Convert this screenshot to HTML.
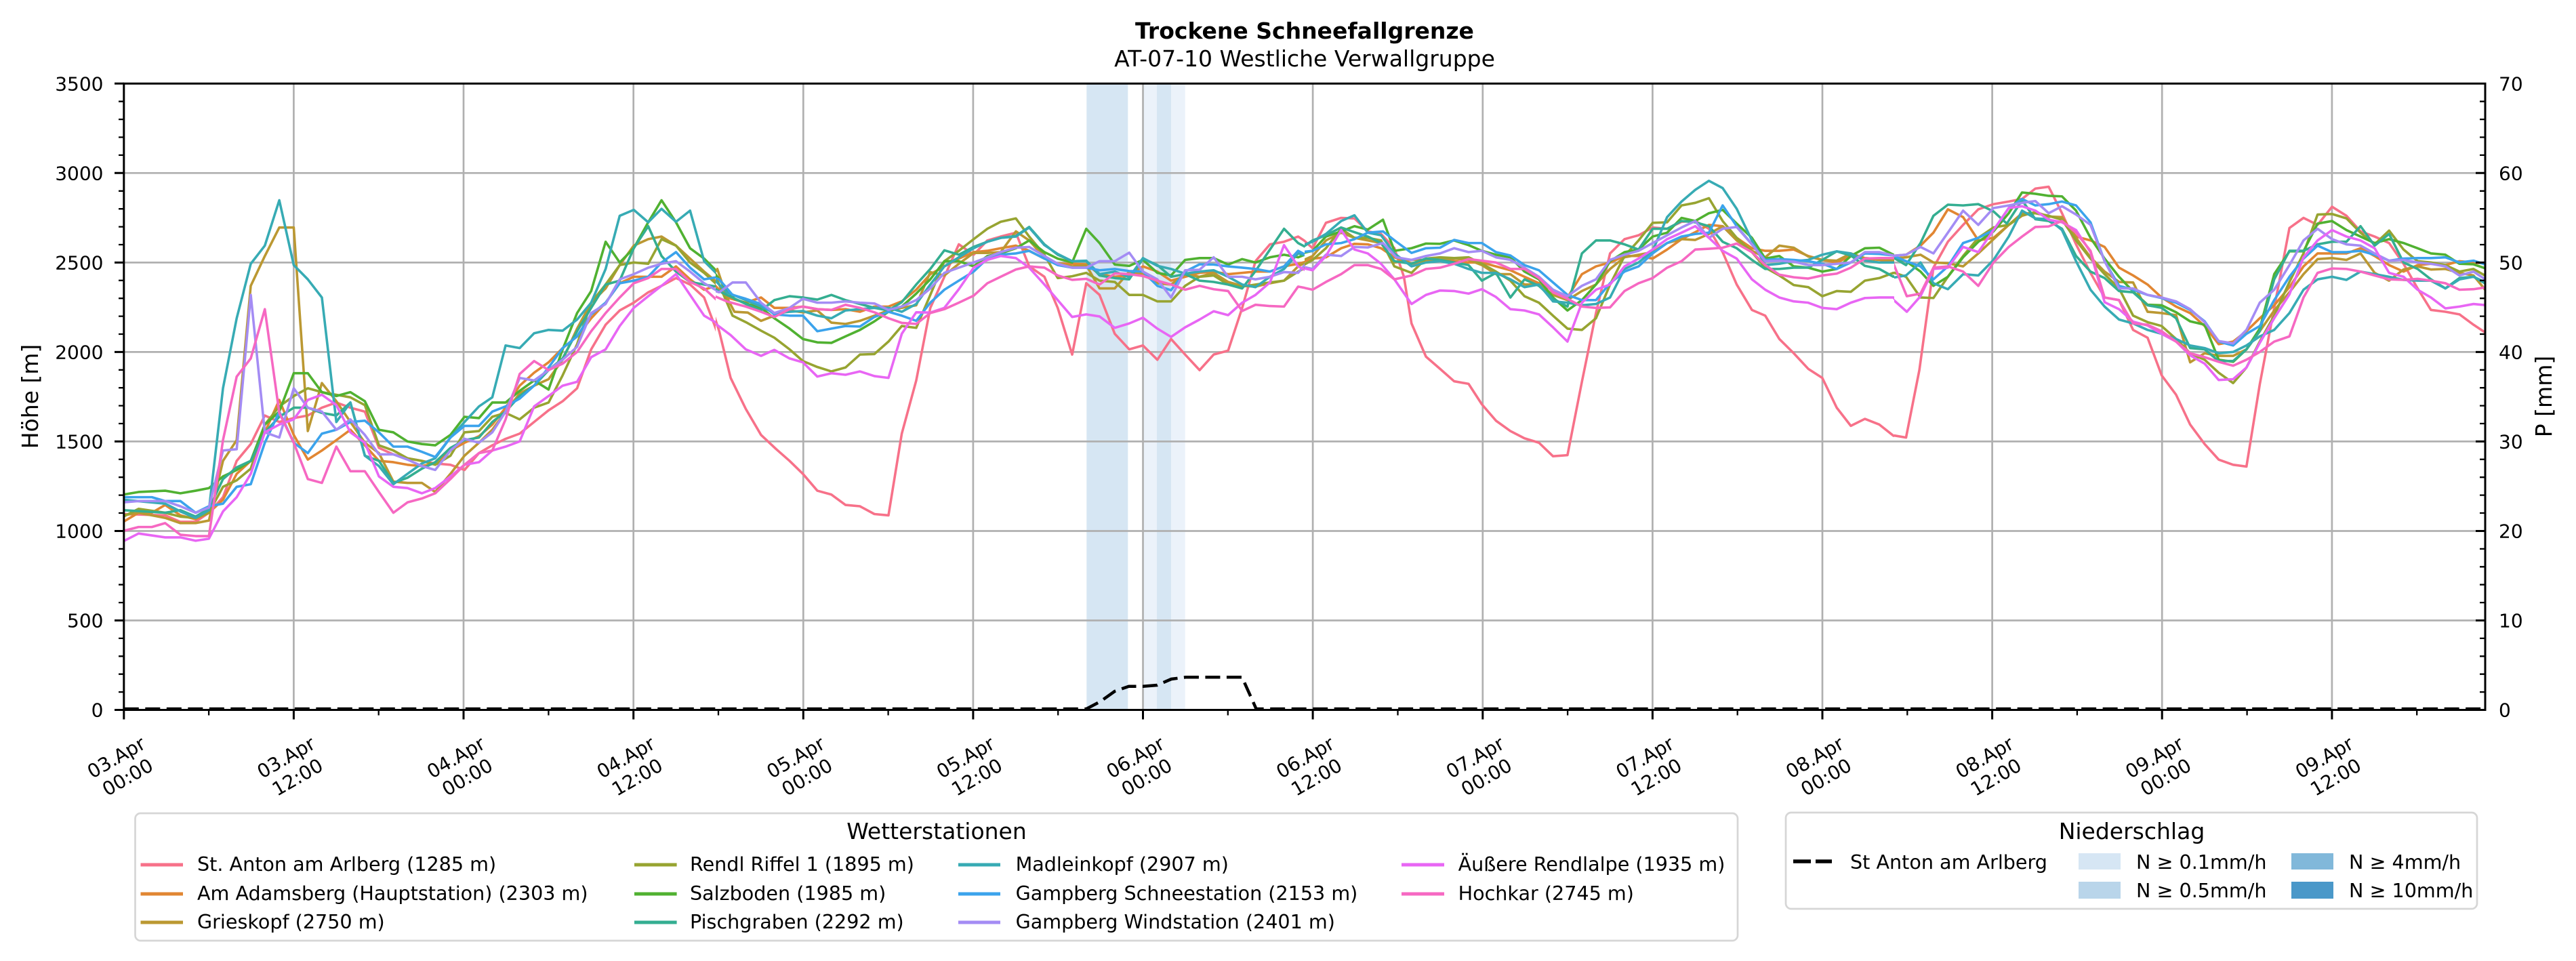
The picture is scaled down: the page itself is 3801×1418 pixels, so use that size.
<!DOCTYPE html>
<html><head><meta charset="utf-8">
<style>
html,body{margin:0;padding:0;background:#fff;}
svg{display:block;}
.s polyline{fill:none;stroke-width:3.6;stroke-linejoin:round;stroke-linecap:butt;vector-effect:non-scaling-stroke;}
text{font-family:"DejaVu Sans","Liberation Sans",sans-serif;fill:#000;}
.tk{font-size:28px;}
.lg{font-size:28.6px;}
</style></head>
<body>
<svg width="3801" height="1418" viewBox="0 0 3801 1418" xmlns="http://www.w3.org/2000/svg">
<defs>
<clipPath id="cA"><rect x="182.8" y="123" width="873.2" height="925"/></clipPath>
<clipPath id="cB"><rect x="1056" y="123" width="869" height="925"/></clipPath>
<clipPath id="cC"><rect x="1925" y="123" width="870" height="925"/></clipPath>
<clipPath id="cD"><rect x="2795" y="123" width="872" height="925"/></clipPath>
</defs>
<rect x="0" y="0" width="3801" height="1418" fill="#fff"/>

<!-- precipitation bands -->
<rect x="1603.3" y="123.3" width="61" height="924.2" fill="#d6e6f3"/>
<rect x="1686" y="123.3" width="21" height="924.2" fill="#ebf2fa"/>
<rect x="1707" y="123.3" width="21" height="924.2" fill="#d6e6f3"/>
<rect x="1728" y="123.3" width="20.7" height="924.2" fill="#ebf2fa"/>

<!-- gridlines -->
<g stroke="#b0b0b0" stroke-width="2.7">
<path d="M433.4 123.3V1047.5M684 123.3V1047.5M934.7 123.3V1047.5M1185.3 123.3V1047.5M1435.9 123.3V1047.5M1686.5 123.3V1047.5M1937.1 123.3V1047.5M2187.8 123.3V1047.5M2438.4 123.3V1047.5M2689 123.3V1047.5M2939.6 123.3V1047.5M3190.2 123.3V1047.5M3440.9 123.3V1047.5"/>
<path d="M182.8 915.5H3667M182.8 783.5H3667M182.8 651.4H3667M182.8 519.4H3667M182.8 387.4H3667M182.8 255.3H3667"/>
</g>

<!-- series segment A -->
<g clip-path="url(#cA)"><g class="s" transform="translate(182,240) scale(0.56122,0.38265)">
<polyline stroke="#f77189" points="0,1355 110,1360 150,1385 190,1385 225,1350 262,1290 298,1150 335,1085 372,975 410,1000 448,985 485,975 522,945 560,925 597,945 635,960 672,1100 710,1125 747,1140 785,1150 820,1160 860,1165 897,1185 935,1120 970,1090 1005,1065 1042,1045 1080,1000 1118,955 1155,920 1193,870 1230,720 1268,625 1305,570 1342,540 1380,500 1415,475 1453,445 1490,470 1527,520 1568,680"/>
<polyline stroke="#e18632" points="0,1385 40,1350 75,1350 110,1320 150,1360 190,1375 225,1350 262,1300 298,1200 335,1150 372,1040 410,915 448,1050 485,1145 522,1110 560,1070 597,1030 635,1090 672,1150 710,1155 747,1165 785,1170 820,1160 860,1110 897,1080 935,1055 970,1010 1005,945 1042,860 1080,810 1118,770 1155,715 1193,670 1230,600 1268,540 1305,465 1342,440 1380,440 1415,440 1453,400 1490,450 1527,490 1568,470"/>
<polyline stroke="#bb9832" points="0,1360 40,1350 110,1370 150,1390 190,1390 225,1380 262,1150 298,1070 335,475 372,360 410,250 448,250 485,1035 522,850 560,920 597,1000 635,1080 672,1120 710,1230 747,1235 785,1235 820,1270 860,1200 897,1130 935,1080 970,1030 1005,960 1042,890 1080,860 1118,835 1155,760 1193,640 1230,540 1268,485 1305,395 1342,320 1380,295 1415,285 1453,320 1490,370 1527,420 1568,470"/>
<polyline stroke="#97a431" points="0,1365 40,1335 110,1350 150,1365 190,1370 225,1350 262,1250 298,1225 335,1180 372,1010 410,940 448,900 485,870 522,885 560,895 597,905 635,935 672,1090 710,1110 747,1140 785,1150 820,1165 860,1130 897,1040 935,1035 970,980 1005,965 1042,990 1080,945 1118,925 1155,820 1193,700 1230,540 1268,470 1305,395 1342,385 1380,390 1415,295 1453,320 1490,385 1527,425 1568,480"/>
<polyline stroke="#50b131" points="0,1280 40,1270 110,1265 150,1275 190,1265 225,1255 262,1210 298,1185 335,1150 372,1010 410,960 448,812 485,812 522,885 560,900 597,885 635,920 672,1030 710,1040 747,1075 785,1085 820,1090 860,1050 897,980 935,985 970,925 1005,925 1042,880 1080,840 1118,875 1155,720 1193,580 1230,495 1268,305 1305,385 1342,330 1380,230 1415,145 1453,230 1490,330 1527,370 1568,430"/>
<polyline stroke="#34ae91" points="0,1340 110,1350 150,1340 190,1365 225,1335 262,1220 298,1175 335,1150 372,1040 410,980 448,945 485,945 522,965 560,975 597,925 635,1130 672,1150 710,1235 747,1215 785,1180 820,1155 860,1100 897,1070 935,1060 970,1000 1005,960 1042,900 1080,860 1118,800 1155,755 1193,650 1230,560 1268,470 1305,455 1342,330 1380,245 1415,360 1453,420 1490,460 1527,470 1568,480"/>
<polyline stroke="#37abb4" points="0,1300 110,1315 150,1345 190,1370 225,1340 262,870 298,600 335,390 372,320 410,145 448,395 485,450 522,520 560,1000 597,925 635,1130 672,1170 710,1240 747,1200 785,1160 820,1140 860,1060 897,1000 935,940 970,905 1005,705 1042,715 1080,658 1118,645 1155,648 1193,605 1230,540 1268,410 1305,205 1342,182 1380,230 1415,178 1453,228 1490,185 1527,380 1568,440"/>
<polyline stroke="#3ba3ec" points="0,1290 75,1290 110,1305 150,1305 190,1350 225,1325 262,1315 298,1250 335,1240 372,1080 410,960 448,1080 485,1120 522,1045 560,1030 597,1000 635,995 672,1040 710,1095 747,1095 785,1115 820,1135 860,1060 897,1015 935,1015 970,960 1005,940 1042,910 1080,860 1118,790 1155,715 1193,670 1230,585 1268,540 1305,465 1342,455 1380,440 1415,385 1453,345 1490,405 1527,450 1568,440"/>
<polyline stroke="#a48cf4" points="0,1310 40,1305 110,1305 150,1325 190,1350 225,1330 262,1110 298,1105 335,510 372,1040 410,1060 448,870 485,945 522,960 560,1030 597,990 635,1050 672,1125 710,1125 747,1145 785,1170 820,1185 860,1110 897,1065 935,1080 970,1040 1005,960 1042,830 1080,840 1118,800 1155,760 1193,710 1230,580 1268,545 1305,450 1342,430 1380,405 1415,390 1453,380 1490,420 1527,465 1568,500"/>
<polyline stroke="#e866f4" points="0,1460 40,1430 110,1445 150,1445 190,1458 225,1450 262,1345 298,1290 335,1200 372,1040 410,1010 448,990 485,915 522,895 560,935 597,1040 635,1080 672,1210 710,1250 747,1255 785,1275 820,1255 860,1210 897,1165 935,1155 970,1110 1005,1095 1042,1075 1080,940 1118,900 1155,860 1193,845 1230,750 1268,720 1305,630 1342,560 1380,515 1415,475 1453,430 1490,510 1527,590 1568,625"/>
<polyline stroke="#f668c2" points="0,1420 40,1405 75,1405 110,1390 150,1435 190,1440 225,1440 262,1070 298,825 335,755 372,565 410,965 448,1080 485,1220 522,1235 560,1095 597,1190 635,1190 672,1270 710,1350 747,1310 785,1295 820,1275 860,1220 897,1165 935,1120 970,1110 1005,990 1042,815 1080,765 1118,800 1155,775 1193,730 1230,650 1268,580 1305,520 1342,465 1380,445 1415,410 1453,410 1490,460 1527,485 1568,540"/>
</g></g>

<!-- series segment B -->
<g clip-path="url(#cB)"><g class="s" transform="translate(1050,240) scale(0.56122,0.38265)">
<polyline stroke="#f77189" points="0,560 20,650 50,830 90,950 130,1050 170,1105 205,1150 240,1200 278,1265 315,1280 352,1320 390,1325 428,1355 465,1360 500,1045 538,840 575,560 612,440 650,315 689,355 725,300 760,285 800,270 835,400 875,440 910,560 948,740 985,465 1020,510 1060,660 1098,720 1134,705 1172,760 1208,680 1245,740 1283,800 1320,740 1358,725 1395,560 1430,380 1468,315 1505,305 1542,285 1568,310"/>
<polyline stroke="#e18632" points="0,460 40,520 90,540 130,520 165,560 205,560 240,555 278,565 315,568 352,565 390,575 428,555 465,555 500,535 538,490 575,430 612,400 650,370 689,345 725,340 760,330 800,320 835,340 875,370 910,390 948,390 985,392 1020,430 1060,440 1098,435 1134,400 1172,420 1208,455 1245,440 1283,425 1320,420 1358,430 1395,425 1430,420 1468,420 1505,400 1542,390 1568,380"/>
<polyline stroke="#bb9832" points="0,440 15,410 40,520 60,575 95,578 130,610 165,590 205,570 240,577 278,570 315,617 352,622 390,610 428,590 465,570 500,560 538,550 575,422 612,435 650,390 689,348 725,348 760,345 800,265 835,300 875,365 910,390 948,400 985,395 1020,485 1060,485 1098,420 1134,430 1172,465 1208,470 1245,430 1283,440 1320,425 1358,460 1395,475 1430,478 1468,465 1505,455 1542,400 1568,380"/>
<polyline stroke="#97a431" points="0,410 20,470 55,590 90,615 130,648 165,675 205,720 240,765 278,788 315,805 352,790 390,740 428,738 465,690 500,630 538,637 575,510 612,380 650,340 689,295 725,255 760,228 800,215 835,285 875,355 910,445 948,438 985,425 1020,455 1060,460 1098,510 1134,510 1172,535 1208,535 1245,475 1283,440 1320,435 1358,470 1395,478 1430,470 1468,462 1505,455 1542,420 1568,400"/>
<polyline stroke="#50b131" points="0,410 30,470 60,525 95,545 130,560 165,600 205,640 240,680 278,693 315,695 352,670 390,645 428,612 465,575 500,555 538,505 575,450 612,380 650,380 689,400 725,360 760,350 800,330 835,300 875,345 910,370 948,385 985,255 1020,310 1060,393 1098,398 1134,375 1172,425 1208,435 1245,375 1283,368 1320,368 1358,393 1395,372 1430,385 1468,365 1505,355 1542,365 1568,350"/>
<polyline stroke="#34ae91" points="0,480 40,510 90,545 130,570 165,530 205,515 240,520 278,528 315,510 352,530 390,545 428,560 465,570 500,538 538,470 575,410 612,338 650,355 689,325 725,305 760,290 800,283 835,248 875,315 910,355 948,380 985,380 1020,435 1060,445 1098,450 1134,370 1172,395 1208,440 1245,430 1283,455 1320,460 1358,470 1395,485 1430,418 1468,335 1505,255 1542,310 1568,330"/>
<polyline stroke="#37abb4" points="0,440 40,500 90,530 130,555 165,580 205,575 240,572 278,590 315,600 352,570 390,565 428,560 465,560 500,575 538,545 575,470 612,400 650,365 689,330 725,305 760,290 800,285 835,250 875,318 910,352 948,380 985,378 1020,430 1060,420 1098,442 1134,368 1172,398 1208,410 1245,428 1283,420 1320,415 1358,440 1395,470 1430,480 1468,440 1505,410 1542,350 1568,360"/>
<polyline stroke="#3ba3ec" points="0,440 20,450 55,510 90,525 130,545 165,585 205,590 240,590 278,650 315,640 352,630 390,632 428,595 465,575 500,590 538,610 575,540 612,490 650,455 689,420 725,370 760,355 800,350 835,340 875,370 910,395 948,405 985,405 1020,415 1060,410 1098,418 1134,420 1172,475 1208,492 1245,420 1283,392 1320,393 1358,400 1395,405 1430,410 1468,420 1505,400 1542,340 1568,360"/>
<polyline stroke="#a48cf4" points="0,490 20,500 55,462 90,462 130,540 165,580 205,560 240,525 278,540 315,540 352,535 390,540 428,543 465,568 500,555 538,530 575,485 612,425 650,405 689,385 725,365 760,345 800,328 835,325 875,360 910,390 948,405 985,405 1020,380 1060,380 1098,347 1134,420 1172,450 1208,520 1245,415 1283,413 1320,365 1358,440 1395,440 1430,450 1468,440 1505,422 1542,425 1568,380"/>
<polyline stroke="#e866f4" points="0,610 50,665 90,720 130,745 165,722 205,755 240,770 278,825 315,812 352,818 390,805 428,823 465,830 500,660 538,577 575,578 612,560 650,488 689,405 725,375 760,360 800,368 835,405 875,470 910,530 948,595 985,585 1020,593 1060,637 1098,620 1134,598 1172,640 1208,672 1245,635 1283,605 1320,573 1358,588 1395,540 1430,510 1468,462 1505,318 1542,400 1568,420"/>
<polyline stroke="#f668c2" points="0,510 40,535 90,555 130,575 165,595 205,565 240,555 278,565 315,568 352,548 390,560 428,577 465,600 500,618 538,622 575,580 612,565 650,540 689,513 725,465 760,440 800,412 835,400 875,405 910,435 948,452 985,448 1020,470 1060,427 1098,430 1134,437 1172,455 1208,470 1245,490 1283,475 1320,488 1358,495 1395,572 1430,548 1468,553 1505,555 1542,478 1568,485"/>
</g></g>

<!-- series segment C -->
<g clip-path="url(#cC)"><g class="s" transform="translate(1920,240) scale(0.56122,0.38265)">
<polyline stroke="#f77189" points="0,290 30,330 65,232 105,213 140,215 175,265 210,275 245,330 270,440 290,620 328,748 365,795 402,843 440,853 475,932 512,995 550,1035 587,1063 625,1080 662,1132 700,1128 738,845 775,580 812,350 850,295 887,280 924,250 962,255 1000,228 1036,225 1072,255 1108,345 1145,470 1185,568 1220,590 1257,680 1295,735 1333,795 1370,830 1408,945 1445,1015 1482,988 1520,1010 1557,1053 1568,1055"/>
<polyline stroke="#e18632" points="0,385 30,370 65,365 105,330 140,313 175,315 210,330 245,365 290,390 328,380 365,375 402,380 440,385 475,385 512,400 550,415 587,440 625,465 662,490 700,520 738,430 775,400 812,385 850,360 887,360 924,370 962,335 1000,295 1036,268 1072,240 1108,245 1145,290 1185,330 1220,340 1257,340 1295,335 1333,360 1370,375 1408,385 1445,360 1482,370 1520,375 1557,380 1568,380"/>
<polyline stroke="#bb9832" points="0,380 30,360 65,300 105,270 140,290 175,300 210,310 245,385 290,375 328,375 365,375 402,370 440,375 475,395 512,430 550,430 587,470 625,470 662,510 700,530 738,495 775,470 812,410 850,365 887,355 924,345 962,310 1000,295 1036,298 1072,275 1108,245 1145,300 1185,340 1220,365 1257,320 1295,328 1333,362 1370,375 1408,378 1445,350 1482,368 1520,372 1557,375 1568,380"/>
<polyline stroke="#97a431" points="0,400 30,375 65,330 105,255 140,290 175,290 210,300 245,400 290,425 328,370 365,365 402,368 440,365 475,390 512,420 550,455 587,515 625,540 662,590 700,640 738,645 775,600 812,470 850,360 887,300 924,232 962,230 1000,165 1036,155 1072,137 1108,225 1145,290 1185,345 1220,405 1257,435 1295,472 1333,480 1370,515 1408,495 1445,498 1482,455 1520,445 1557,425 1568,430"/>
<polyline stroke="#50b131" points="0,350 30,340 65,285 105,265 140,245 175,258 215,220 245,340 290,330 328,312 365,313 402,300 440,318 475,340 512,355 550,365 587,420 625,450 662,520 700,570 738,530 775,470 812,380 850,345 887,335 924,285 962,270 1000,213 1036,225 1072,195 1108,182 1145,235 1185,290 1220,370 1257,360 1295,400 1333,405 1370,420 1408,410 1445,360 1482,330 1520,328 1557,355 1568,360"/>
<polyline stroke="#34ae91" points="0,330 30,300 65,280 105,250 140,268 175,285 210,310 245,380 290,390 328,370 365,375 402,385 440,395 475,455 512,425 550,520 587,450 625,475 662,525 700,555 738,350 775,300 812,300 850,315 887,335 924,255 962,255 1000,225 1036,230 1072,245 1108,305 1145,330 1185,375 1220,410 1257,410 1295,405 1333,405 1370,375 1408,342 1445,358 1482,398 1520,410 1557,440 1568,430"/>
<polyline stroke="#37abb4" points="0,320 30,305 65,275 105,225 140,203 175,270 210,280 245,350 290,400 328,385 365,380 402,390 440,410 475,425 512,425 550,450 587,480 625,470 662,535 700,540 738,550 775,545 812,520 850,410 887,385 924,340 962,210 1000,150 1036,105 1072,70 1108,98 1145,178 1185,300 1220,395 1257,390 1295,380 1333,375 1370,355 1408,342 1445,350 1482,378 1520,385 1557,385 1568,385"/>
<polyline stroke="#3ba3ec" points="0,345 30,340 65,315 105,310 140,295 175,270 215,265 250,305 290,348 328,330 365,328 402,298 440,310 475,310 512,345 550,358 587,395 625,415 662,462 700,510 738,530 775,530 812,465 850,420 887,400 924,350 962,310 1000,285 1036,275 1072,270 1108,165 1145,245 1185,315 1220,375 1257,372 1295,375 1333,380 1370,390 1408,410 1445,385 1482,350 1520,352 1557,358 1568,360"/>
<polyline stroke="#a48cf4" points="0,400 30,410 65,355 105,360 140,325 175,327 215,310 250,365 290,375 328,360 365,350 402,330 440,345 475,340 512,365 550,375 587,405 625,440 662,490 700,515 738,475 775,450 812,375 850,355 887,340 924,310 962,280 1000,250 1036,225 1072,290 1108,255 1145,248 1185,315 1220,380 1257,378 1295,382 1333,395 1370,395 1408,390 1445,385 1482,345 1520,345 1557,358 1568,360"/>
<polyline stroke="#e866f4" points="0,405 30,415 65,360 105,260 140,335 175,350 210,390 245,450 290,545 328,510 365,493 402,495 440,505 475,488 512,518 550,565 587,570 625,585 662,635 700,690 738,540 775,490 812,470 850,400 887,370 924,335 962,295 1000,270 1036,245 1072,290 1108,340 1145,370 1185,450 1220,490 1257,520 1295,535 1333,540 1370,560 1408,565 1445,540 1482,522 1520,520 1557,520 1568,540"/>
<polyline stroke="#f668c2" points="0,480 30,490 65,460 105,430 140,395 175,395 210,410 245,450 290,435 328,410 365,405 402,390 440,372 475,378 512,385 550,410 587,410 625,445 662,500 700,525 738,555 775,560 812,558 850,495 887,465 924,445 962,405 1000,380 1036,335 1072,332 1108,328 1145,312 1185,345 1220,395 1257,432 1295,442 1333,447 1370,435 1408,428 1445,405 1482,370 1520,368 1557,368 1568,370"/>
</g></g>

<!-- series segment D -->
<g clip-path="url(#cD)"><g class="s" transform="translate(2790,240) scale(0.56122,0.38265)">
<polyline stroke="#f77189" points="0,1050 40,1060 75,800 112,405 150,305 190,240 230,180 270,160 310,150 345,140 380,100 415,93 450,195 487,315 525,425 562,520 600,530 637,645 675,675 712,820 750,895 787,1010 825,1085 862,1145 900,1165 935,1172 970,855 1008,560 1048,252 1085,213 1122,240 1160,170 1198,205 1235,265 1272,285 1310,310 1348,390 1385,485 1420,568 1458,575 1495,585 1532,625 1568,660"/>
<polyline stroke="#e18632" points="0,360 40,355 78,320 112,270 150,180 190,210 230,300 270,290 310,240 345,195 380,195 415,205 450,220 487,285 525,300 562,325 600,405 637,435 675,470 712,520 750,555 787,580 825,630 862,700 900,690 935,650 970,600 1008,550 1048,480 1085,400 1122,350 1160,350 1198,350 1235,330 1272,360 1310,395 1348,420 1385,395 1420,390 1458,395 1495,380 1532,385 1568,390"/>
<polyline stroke="#bb9832" points="0,370 40,365 78,355 112,385 150,388 190,400 230,350 270,295 310,240 345,205 380,190 415,208 450,210 487,290 525,365 562,420 600,460 637,462 675,575 712,580 750,588 787,770 825,735 862,745 900,745 935,720 970,650 1008,570 1048,500 1085,430 1122,372 1160,368 1198,375 1235,350 1272,425 1310,455 1348,412 1385,400 1420,412 1458,410 1495,425 1532,435 1568,500"/>
<polyline stroke="#97a431" points="0,420 40,440 78,520 112,522 150,440 190,360 230,290 270,250 310,240 345,200 380,195 415,205 450,220 487,300 525,370 562,430 600,485 637,590 675,615 712,630 750,680 787,735 825,760 862,810 900,850 935,790 970,690 1008,590 1048,460 1085,350 1122,200 1160,198 1198,215 1235,270 1272,315 1310,262 1348,335 1385,380 1420,385 1458,395 1495,420 1532,410 1568,440"/>
<polyline stroke="#50b131" points="0,365 40,380 78,420 112,475 150,440 190,365 230,305 270,265 310,195 345,115 380,120 415,128 450,130 487,185 525,290 562,370 600,440 637,497 675,548 712,550 750,577 787,612 825,625 862,760 900,768 935,720 970,640 1008,430 1048,342 1085,342 1122,235 1160,225 1198,260 1235,285 1272,310 1310,295 1348,310 1385,330 1420,350 1458,355 1495,390 1532,392 1568,410"/>
<polyline stroke="#34ae91" points="0,360 40,395 78,310 112,205 150,162 190,165 230,160 270,188 305,235 345,145 380,218 415,225 450,255 487,360 525,420 562,445 600,495 637,500 675,550 712,560 750,600 787,715 825,720 862,765 900,765 935,720 970,650 1008,450 1048,340 1085,340 1122,315 1160,305 1198,305 1235,245 1272,320 1310,275 1348,385 1385,410 1420,450 1458,485 1495,445 1532,440 1568,470"/>
<polyline stroke="#37abb4" points="0,445 40,435 78,385 112,465 150,488 190,430 230,435 270,375 310,285 345,185 380,215 415,218 450,260 487,380 525,490 562,555 600,605 637,620 675,645 712,660 750,680 787,705 825,715 862,735 900,730 935,705 970,670 1008,645 1048,580 1085,490 1122,450 1160,440 1198,452 1235,420 1272,430 1310,440 1348,452 1385,455 1420,455 1458,485 1495,450 1532,440 1568,465"/>
<polyline stroke="#3ba3ec" points="0,355 40,380 78,400 112,450 150,400 190,310 230,290 270,260 310,175 345,140 380,165 415,160 450,150 487,165 525,230 562,380 600,475 637,490 675,510 712,522 750,540 787,568 825,612 862,690 900,705 935,660 970,630 1008,530 1048,440 1085,370 1122,320 1160,345 1198,345 1235,340 1272,355 1310,378 1348,370 1385,368 1420,368 1458,365 1495,385 1532,378 1568,395"/>
<polyline stroke="#a48cf4" points="0,360 40,355 78,325 112,350 150,270 190,185 230,240 270,175 310,165 345,155 380,148 415,195 450,168 487,200 525,240 562,380 600,485 637,485 675,510 712,520 750,535 787,565 825,615 862,688 900,697 935,645 970,540 1008,490 1048,395 1085,300 1122,255 1160,295 1198,315 1235,320 1272,350 1310,378 1348,375 1385,385 1420,390 1458,400 1495,435 1532,420 1568,455"/>
<polyline stroke="#e866f4" points="0,520 42,575 78,515 112,410 150,405 190,325 230,345 270,260 310,175 345,168 380,185 415,220 450,230 487,260 525,345 562,538 600,565 637,613 675,628 712,660 750,690 787,743 825,775 862,838 900,835 935,790 970,695 1008,600 1048,508 1085,365 1122,300 1160,260 1198,285 1235,300 1272,330 1310,425 1348,440 1385,490 1420,520 1458,562 1495,555 1532,545 1568,550"/>
<polyline stroke="#f668c2" points="0,365 42,515 78,505 112,405 150,400 190,420 230,475 270,385 310,325 345,285 380,248 415,246 450,225 487,270 525,340 562,520 600,530 637,620 675,625 712,650 750,690 787,735 825,750 862,768 900,783 935,760 970,730 1008,690 1048,670 1085,520 1122,425 1160,408 1198,410 1235,420 1272,435 1310,450 1348,452 1385,448 1420,455 1458,465 1495,490 1532,488 1568,480"/>
</g></g>

<!-- precipitation line -->
<polyline fill="none" stroke="#000" stroke-width="4.5" stroke-dasharray="22 9.5" points="182.8,1046 1603,1046 1623.9,1035 1644.8,1020 1665.6,1012.7 1686.5,1012.7 1707.4,1011 1728.3,1002 1749.2,999.3 1832.7,999.3 1853.6,1046 3667,1046"/>

<!-- spines -->
<rect x="182.8" y="123.3" width="3484.2" height="924.2" fill="none" stroke="#000" stroke-width="3"/>

<!-- ticks -->
<g stroke="#000" stroke-width="3">
<path d="M169 1047.5h14M169 915.5h14M169 783.5h14M169 651.4h14M169 519.4h14M169 387.4h14M169 255.3h14M169 123.3h14"/>
<path d="M3653 915.5h14M3653 783.5h14M3653 651.4h14M3653 519.4h14M3653 387.4h14M3653 255.3h14"/>
<path d="M182.8 1047.5v14M433.4 1047.5v14M684 1047.5v14M934.7 1047.5v14M1185.3 1047.5v14M1435.9 1047.5v14M1686.5 1047.5v14M1937.1 1047.5v14M2187.8 1047.5v14M2438.4 1047.5v14M2689 1047.5v14M2939.6 1047.5v14M3190.2 1047.5v14M3440.9 1047.5v14"/>
</g>
<g stroke="#000" stroke-width="2.3">
<path d="M175 1021.1h8M175 994.7h8M175 968.3h8M175 941.9h8M175 889.1h8M175 862.7h8M175 836.3h8M175 809.9h8M175 757h8M175 730.6h8M175 704.2h8M175 677.8h8M175 625h8M175 598.6h8M175 572.2h8M175 545.8h8M175 493h8M175 466.6h8M175 440.2h8M175 413.8h8M175 361h8M175 334.6h8M175 308.2h8M175 281.8h8M175 228.9h8M175 202.5h8M175 176.1h8M175 149.7h8"/>
<path d="M3659 1021.1h8M3659 994.7h8M3659 968.3h8M3659 941.9h8M3659 889.1h8M3659 862.7h8M3659 836.3h8M3659 809.9h8M3659 757h8M3659 730.6h8M3659 704.2h8M3659 677.8h8M3659 625h8M3659 598.6h8M3659 572.2h8M3659 545.8h8M3659 493h8M3659 466.6h8M3659 440.2h8M3659 413.8h8M3659 361h8M3659 334.6h8M3659 308.2h8M3659 281.8h8M3659 228.9h8M3659 202.5h8M3659 176.1h8M3659 149.7h8"/>
<path d="M308.1 1047.5v8M558.7 1047.5v8M809.4 1047.5v8M1060 1047.5v8M1310.6 1047.5v8M1561.2 1047.5v8M1811.8 1047.5v8M2062.5 1047.5v8M2313.1 1047.5v8M2563.7 1047.5v8M2814.3 1047.5v8M3064.9 1047.5v8M3315.6 1047.5v8M3566.2 1047.5v8"/>
</g>

<!-- y labels left -->
<g class="tk" text-anchor="end">
<text x="152.5" y="1057.5">0</text>
<text x="152.5" y="925.5">500</text>
<text x="152.5" y="793.5">1000</text>
<text x="152.5" y="661.4">1500</text>
<text x="152.5" y="529.4">2000</text>
<text x="152.5" y="397.4">2500</text>
<text x="152.5" y="265.3">3000</text>
<text x="152.5" y="133.3">3500</text>
</g>
<!-- y labels right -->
<g class="tk" text-anchor="start">
<text x="3687" y="1057.5">0</text>
<text x="3687" y="925.5">10</text>
<text x="3687" y="793.5">20</text>
<text x="3687" y="661.4">30</text>
<text x="3687" y="529.4">40</text>
<text x="3687" y="397.4">50</text>
<text x="3687" y="265.3">60</text>
<text x="3687" y="133.3">70</text>
</g>

<!-- x labels -->
<g class="tk" text-anchor="middle">
<g transform="translate(179.8,1132) rotate(-30)"><text x="0" y="-6.8">03.Apr</text><text x="0" y="26.8">00:00</text></g>
<g transform="translate(430.4,1132) rotate(-30)"><text x="0" y="-6.8">03.Apr</text><text x="0" y="26.8">12:00</text></g>
<g transform="translate(681,1132) rotate(-30)"><text x="0" y="-6.8">04.Apr</text><text x="0" y="26.8">00:00</text></g>
<g transform="translate(931.7,1132) rotate(-30)"><text x="0" y="-6.8">04.Apr</text><text x="0" y="26.8">12:00</text></g>
<g transform="translate(1182.3,1132) rotate(-30)"><text x="0" y="-6.8">05.Apr</text><text x="0" y="26.8">00:00</text></g>
<g transform="translate(1432.9,1132) rotate(-30)"><text x="0" y="-6.8">05.Apr</text><text x="0" y="26.8">12:00</text></g>
<g transform="translate(1683.5,1132) rotate(-30)"><text x="0" y="-6.8">06.Apr</text><text x="0" y="26.8">00:00</text></g>
<g transform="translate(1934.1,1132) rotate(-30)"><text x="0" y="-6.8">06.Apr</text><text x="0" y="26.8">12:00</text></g>
<g transform="translate(2184.8,1132) rotate(-30)"><text x="0" y="-6.8">07.Apr</text><text x="0" y="26.8">00:00</text></g>
<g transform="translate(2435.4,1132) rotate(-30)"><text x="0" y="-6.8">07.Apr</text><text x="0" y="26.8">12:00</text></g>
<g transform="translate(2686,1132) rotate(-30)"><text x="0" y="-6.8">08.Apr</text><text x="0" y="26.8">00:00</text></g>
<g transform="translate(2936.6,1132) rotate(-30)"><text x="0" y="-6.8">08.Apr</text><text x="0" y="26.8">12:00</text></g>
<g transform="translate(3187.2,1132) rotate(-30)"><text x="0" y="-6.8">09.Apr</text><text x="0" y="26.8">00:00</text></g>
<g transform="translate(3437.9,1132) rotate(-30)"><text x="0" y="-6.8">09.Apr</text><text x="0" y="26.8">12:00</text></g>
</g>

<!-- axis labels -->
<text transform="translate(56,585) rotate(-90)" text-anchor="middle" font-size="33">Höhe [m]</text>
<text transform="translate(3765,585) rotate(-90)" text-anchor="middle" font-size="33">P [mm]</text>

<!-- titles -->
<text x="1925" y="57" text-anchor="middle" font-size="33" font-weight="bold">Trockene Schneefallgrenze</text>
<text x="1925" y="98" text-anchor="middle" font-size="33">AT-07-10 Westliche Verwallgruppe</text>

<!-- legend 1 -->
<rect x="199.5" y="1200" width="2364.5" height="188" rx="8" ry="8" fill="#fff" stroke="#d6d6d6" stroke-width="2.7"/>
<text x="1382" y="1238" text-anchor="middle" font-size="33">Wetterstationen</text>
<g stroke-width="5">
<path d="M207.5 1276H270" stroke="#f77189"/>
<path d="M207.5 1319H270" stroke="#e18632"/>
<path d="M207.5 1361H270" stroke="#bb9832"/>
<path d="M936 1276H998.6" stroke="#97a431"/>
<path d="M936 1319H998.6" stroke="#50b131"/>
<path d="M936 1361H998.6" stroke="#34ae91"/>
<path d="M1414 1276H1476" stroke="#37abb4"/>
<path d="M1414 1319H1476" stroke="#3ba3ec"/>
<path d="M1414 1361H1476" stroke="#a48cf4"/>
<path d="M2068 1276H2131" stroke="#e866f4"/>
<path d="M2068 1319H2131" stroke="#f668c2"/>
</g>
<g class="lg">
<text x="291" y="1285">St. Anton am Arlberg (1285 m)</text>
<text x="291" y="1328">Am Adamsberg (Hauptstation) (2303 m)</text>
<text x="291" y="1370">Grieskopf (2750 m)</text>
<text x="1018" y="1285">Rendl Riffel 1 (1895 m)</text>
<text x="1018" y="1328">Salzboden (1985 m)</text>
<text x="1018" y="1370">Pischgraben (2292 m)</text>
<text x="1498.6" y="1285">Madleinkopf (2907 m)</text>
<text x="1498.6" y="1328">Gampberg Schneestation (2153 m)</text>
<text x="1498.6" y="1370">Gampberg Windstation (2401 m)</text>
<text x="2151.6" y="1285">Äußere Rendlalpe (1935 m)</text>
<text x="2151.6" y="1328">Hochkar (2745 m)</text>
</g>

<!-- legend 2 -->
<rect x="2635" y="1199" width="1020" height="142" rx="8" ry="8" fill="#fff" stroke="#d6d6d6" stroke-width="2.7"/>
<text x="3145.5" y="1238" text-anchor="middle" font-size="33">Niederschlag</text>
<path d="M2646 1271H2703" stroke="#000" stroke-width="5.5" stroke-dasharray="26 7"/>
<rect x="3067" y="1259" width="62" height="24" fill="#d6e6f4"/>
<rect x="3067" y="1301" width="62" height="25" fill="#b9d5ea"/>
<rect x="3381" y="1259" width="62" height="24" fill="#81b8da"/>
<rect x="3381" y="1301" width="62" height="25" fill="#4a98c9"/>
<g class="lg">
<text x="2730" y="1282">St Anton am Arlberg</text>
<text x="3152" y="1282">N ≥ 0.1mm/h</text>
<text x="3152" y="1324">N ≥ 0.5mm/h</text>
<text x="3466" y="1282">N ≥ 4mm/h</text>
<text x="3466" y="1324">N ≥ 10mm/h</text>
</g>
</svg>
</body></html>
